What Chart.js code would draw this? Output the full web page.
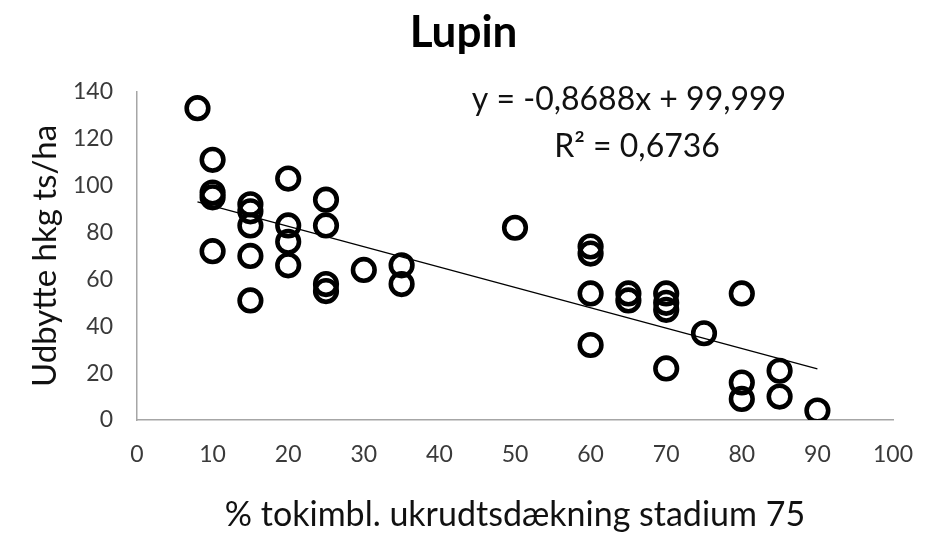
<!DOCTYPE html>
<html>
<head>
<meta charset="utf-8">
<script src="https://cdn.jsdelivr.net/npm/chart.js@4"></script>
<style>
  body{margin:0;background:#fff;}
  #wrap{width:927px;height:534px;}
</style>
</head>
<body>
<div id="wrap"><canvas id="lupinChart" width="927" height="534"></canvas></div>
<script>
// data
const weedCover = [8, 10, 10, 10, 10, 15, 15, 15, 15, 15, 20, 20, 20, 20, 25, 25, 25, 25, 30, 35, 35, 50, 60, 60, 60, 60, 65, 65, 70, 70, 70, 70, 75, 80, 80, 80, 85, 85, 90]
const yieldHkg = [133, 111, 97, 95, 72, 92, 89, 83, 70, 51, 103, 83, 76, 66, 94, 83, 58, 55, 64, 66, 58, 82, 74, 71, 54, 32, 54, 51, 54, 50, 47, 22, 37, 54, 16, 9, 21, 10, 4]
// trendline ends (from the equation shown on the chart)
const trendX = [8, 90]
const trendY = [93.05, 21.81]
const xTicks = [0, 10, 20, 30, 40, 50, 60, 70, 80, 90, 100]
const yTicks = [0, 20, 40, 60, 80, 100, 120, 140]
const equationLines = ['y = -0,8688x + 99,999', 'R² = 0,6736']

const fontFam = 'Lato, "Open Sans", sans-serif'

//plugin para escribir la ecuacion de la tendencia
const equationPlugin = {
    id: 'equationText',
    afterDatasetsDraw(chart){
        const ctx = chart.ctx
        ctx.save()
        ctx.fillStyle = '#111'
        ctx.font = '32px ' + fontFam
        ctx.textAlign = 'center'
        ctx.textBaseline = 'middle'
        ctx.fillText(equationLines[0], 629, 100)
        ctx.fillText(equationLines[1], 637, 147)
        ctx.restore()
    }
}

const ctx = document.getElementById('lupinChart').getContext('2d')
const chart = new Chart(ctx, {
    data: {
        datasets: [
            {
                type: 'scatter',
                data: weedCover.map((x, i) => ({x: x, y: yieldHkg[i]})),
                pointStyle: 'circle',
                pointRadius: 10.8,
                pointHoverRadius: 10.8,
                backgroundColor: 'rgba(0,0,0,0)',
                borderColor: '#000',
                pointBorderWidth: 4.6,
                order: 2
            },
            {
                type: 'line',
                data: trendX.map((x, i) => ({x: x, y: trendY[i]})),
                borderColor: '#000',
                borderWidth: 1.2,
                pointRadius: 0,
                fill: false,
                order: 1
            }
        ]
    },
    options: {
        responsive: false,
        devicePixelRatio: 1,
        animation: false,
        layout: {padding: 0},
        plugins: {
            legend: {display: false},
            tooltip: {enabled: false},
            title: {
                display: true,
                text: 'Lupin',
                color: '#000',
                font: {family: fontFam, size: 44, weight: 'bold', lineHeight: 1.2},
                padding: {top: 6, bottom: 33}
            }
        },
        scales: {
            x: {
                type: 'linear',
                min: 0,
                max: 100,
                afterBuildTicks: axis => { axis.ticks = xTicks.map(v => ({value: v})) },
                afterFit: scale => {
                    scale.height = 114
                    scale.paddingLeft = 0
                    scale.paddingRight = 34
                },
                grid: {display: false, drawTicks: false},
                border: {display: true, color: '#a6a6a6', width: 1.5},
                ticks: {color: '#3a3a3a', padding: 21, font: {family: fontFam, size: 23}},
                title: {
                    display: true,
                    text: '% tokimbl. ukrudtsdækning stadium 75',
                    color: '#111',
                    font: {family: fontFam, size: 34, lineHeight: 1.1},
                    padding: {top: 0, bottom: 0}
                }
            },
            y: {
                type: 'linear',
                min: 0,
                max: 140,
                afterBuildTicks: axis => { axis.ticks = yTicks.map(v => ({value: v})) },
                afterFit: scale => { scale.width = 137 },
                grid: {display: false, drawTicks: false},
                border: {display: true, color: '#a6a6a6', width: 1.5},
                ticks: {color: '#3a3a3a', padding: 24, font: {family: fontFam, size: 23}},
                title: {
                    display: true,
                    text: 'Udbytte hkg ts/ha',
                    color: '#111',
                    font: {family: fontFam, size: 33, lineHeight: 1.1},
                    padding: {top: 27, bottom: 0}
                }
            }
        }
    },
    plugins: [equationPlugin]
})
</script>
</body>
</html>
